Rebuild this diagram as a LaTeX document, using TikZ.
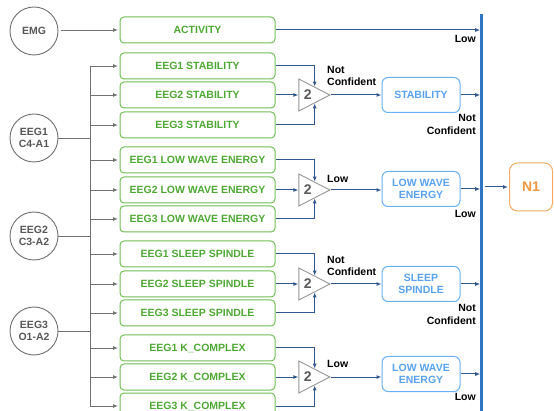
\documentclass[tikz,border=0pt]{standalone}
\usepackage{fontspec}
\setmainfont{Liberation Sans}
\usetikzlibrary{arrows.meta,shapes.geometric,calc}
\definecolor{gbox}{RGB}{112,192,84}
\definecolor{gtext}{RGB}{78,168,52}
\definecolor{bbox}{RGB}{105,178,245}
\definecolor{btext}{RGB}{88,162,240}
\definecolor{darr}{RGB}{48,88,142}
\definecolor{busc}{RGB}{48,116,196}
\definecolor{cgray}{RGB}{112,112,112}
\definecolor{ctext}{RGB}{88,88,88}
\definecolor{tgray}{RGB}{150,150,150}
\definecolor{otext}{RGB}{242,152,62}
\definecolor{obox}{RGB}{246,172,96}
\begin{document}
\begin{tikzpicture}[x=1pt,y=-1pt,
  bf/.style={font=\bfseries\fontsize{10.5}{12.5}\selectfont},
  feat/.style={bf,draw=gbox,line width=1pt,rounded corners=4pt,minimum width=155pt,minimum height=26pt,text=gtext,inner sep=0pt},
  res/.style={bf,draw=bbox,line width=1pt,rounded corners=6pt,minimum width=78pt,minimum height=35pt,text=btext,align=center,inner sep=0pt},
  src/.style={bf,circle,draw=cgray,line width=0.9pt,minimum size=48pt,text=ctext,align=center,inner sep=0pt},
  cmp/.style={isosceles triangle,isosceles triangle stretches,draw=tgray,line width=0.9pt,minimum width=32pt,minimum height=31pt,inner xsep=2pt,inner ysep=0pt,anchor=apex,text=ctext,font=\bfseries\fontsize{14}{14}\selectfont},
  arr/.style={draw=darr,line width=1pt,-{Latex[length=5pt,width=4pt]}},
  garr/.style={draw=cgray,line width=0.9pt,-{Latex[length=5pt,width=4pt]}},
  labl/.style={bf,align=left,anchor=west,inner sep=0pt},
  labr/.style={bf,align=right,anchor=east,inner sep=0pt}]
\clip (0,0) rectangle (554,411);
\fill[white] (0,0) rectangle (554,411);

% sources
\node[src] (emg) at (34,31) {EMG};
\node[src] (e1) at (34,138) {EEG1\\C4-A1};
\node[src] (e2) at (34,236) {EEG2\\C3-A2};
\node[src] (e3) at (34,331) {EEG3\\O1-A2};

% gray bus
\coordinate (gbt) at (90,66);
\coordinate (gbb) at (90,406);
\draw[cgray,line width=0.9pt] (gbt) -- (gbb);

% feature boxes
\node[feat] (act) at (197.5,30) {ACTIVITY};
\node[feat] (s1) at (197.5,66) {EEG1 STABILITY};
\node[feat] (s2) at (197.5,95) {EEG2 STABILITY};
\node[feat] (s3) at (197.5,125) {EEG3 STABILITY};
\node[feat] (l1) at (197.5,160) {EEG1 LOW WAVE ENERGY};
\node[feat] (l2) at (197.5,190) {EEG2 LOW WAVE ENERGY};
\node[feat] (l3) at (197.5,219) {EEG3 LOW WAVE ENERGY};
\node[feat] (p1) at (197.5,254) {EEG1 SLEEP SPINDLE};
\node[feat] (p2) at (197.5,284) {EEG2 SLEEP SPINDLE};
\node[feat] (p3) at (197.5,313) {EEG3 SLEEP SPINDLE};
\node[feat] (k1) at (197.5,348) {EEG1 K\_COMPLEX};
\node[feat] (k2) at (197.5,377) {EEG2 K\_COMPLEX};
\node[feat] (k3) at (197.5,406) {EEG3 K\_COMPLEX};

% source connections
\draw[garr,shorten >=1.5pt,shorten <=3pt] (act.west -| emg.east) -- (act.west);
\foreach \c in {e1,e2,e3} \draw[cgray,line width=0.9pt] (\c.east) -- (\c.east -| gbt);
\foreach \b in {s1,s2,s3,l1,l2,l3,p1,p2,p3,k1,k2,k3}
  \draw[garr,shorten >=1.5pt] (\b.west -| gbt) -- (\b.west);

% comparators
\node[cmp] (t1) at (331,95) {2};
\node[cmp] (t2) at (331,190) {2};
\node[cmp] (t3) at (331,284) {2};
\node[cmp] (t4) at (331,377) {2};

% result boxes
\node[res] (r1) at (421,95) {STABILITY};
\node[res] (r2) at (421,189) {LOW WAVE\\ENERGY};
\node[res] (r3) at (421,284) {SLEEP\\SPINDLE};
\node[res] (r4) at (421,374) {LOW WAVE\\ENERGY};

% output bus
\coordinate (bt) at (481.5,14);
\coordinate (bb) at (481.5,411);
\draw[busc,line width=2.6pt] (bt) -- (bb);

% N1
\node[draw=obox,line width=1pt,rounded corners=8pt,minimum width=43pt,minimum height=48pt,text=otext,font=\bfseries\fontsize{14}{14}\selectfont,inner sep=0pt] (n1) at (531,187) {N1};

% comparator inputs
\foreach \t/\a/\b/\c in {t1/s1/s2/s3,t2/l1/l2/l3,t3/p1/p2/p3,t4/k1/k2/k3}{
  \draw[arr] (\a.east) -| (\t.left side);
  \draw[arr] (\b.east) -- (\b.east -| \t.left corner);
  \draw[arr] (\c.east) -| (\t.right side);
}
% comparator outputs
\draw[arr] (t1.apex) -- (t1.apex -| r1.west);
\draw[arr] (t2.apex) -- (t2.apex -| r2.west);
\draw[arr] (t3.apex) -- (t3.apex -| r3.west);
\draw[arr] (t4.apex) -- (t4.apex -| r4.west);

% into output bus
\draw[arr,shorten >=1.3pt] (act.east) -- (act.east -| bt);
\foreach \r in {r1,r2,r3,r4} \draw[arr,shorten >=1.3pt] (\r.east) -- (\r.east -| bt);
\draw[arr,shorten >=1pt] ([xshift=3pt]n1.west -| bt) -- (n1.west);

% labels
\node[labr] (la) at (476,39) {Low};
\node[labl] (lc1) at (327,76) {Not\\Confident};
\node[labr] (lo1) at (476,124.5) {Not\\Confident};
\node[labl] (lc2) at (327,179) {Low};
\node[labr] (lo2) at (476,214) {Low};
\node[labl] (lc3) at (327,266) {Not\\Confident};
\node[labr] (lo3) at (476,314.5) {Not\\Confident};
\node[labl] (lc4) at (327,364) {Low};
\node[labr] (lo4) at (476,397) {Low};
\end{tikzpicture}
\end{document}
